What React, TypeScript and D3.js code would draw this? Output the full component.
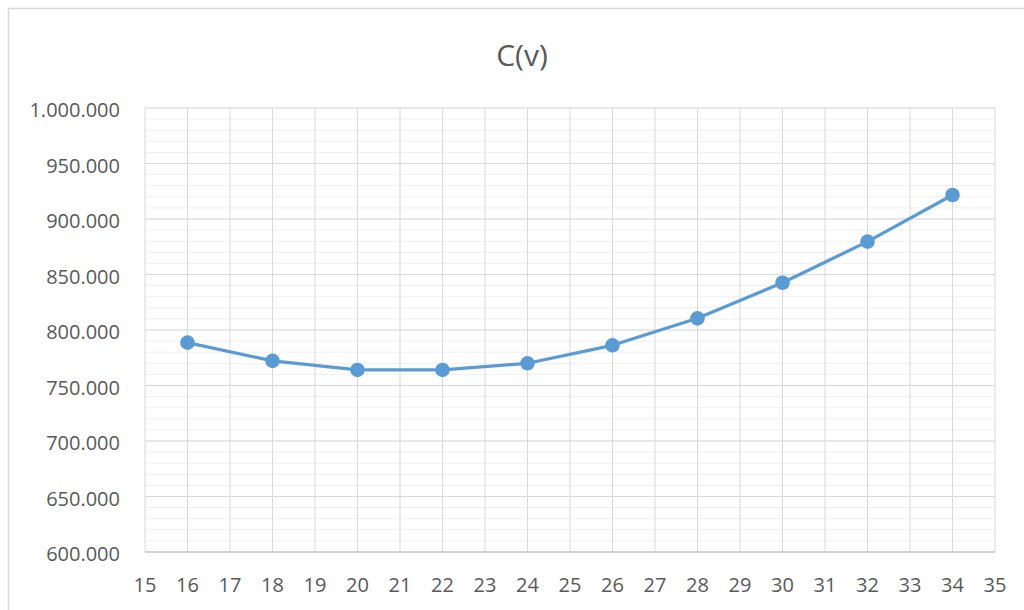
import React from "react";
import * as d3 from "d3";

const xValues = [16, 18, 20, 22, 24, 26, 28, 30, 32, 34];
const costValues = [788600, 772200, 764000, 764000, 770000, 786200, 810500, 842600, 879600, 921600];
const xTicks = d3.range(15, 36, 1);
const yMajorTicks = d3.range(600000, 1000001, 50000);
const yMinorTicks = d3.range(600000, 1000001, 10000);
const title = "C(v)";

const W = 1024;
const H = 610;
const left = 145;
const right = 995;
const top = 108;
const bottom = 552;

const fmt = (v: number) => d3.format(",")(v).replace(/,/g, ".");

export default function App() {
  const x = d3.scaleLinear().domain([15, 35]).range([left, right]);
  const y = d3.scaleLinear().domain([600000, 1000000]).range([bottom, top]);
  const line = d3
    .line<number>()
    .x((_, i) => x(xValues[i]))
    .y((d) => y(d));
  const font = "'Open Sans', 'Noto Sans', sans-serif";
  return (
    <svg
      width={W}
      height={H}
      style={{ position: "absolute", left: 0, top: 0, background: "#fff" }}
    >
      <rect x={8.5} y={8.5} width={1030} height={620} fill="#fff" stroke="#d9d9d9" strokeWidth={1.5} />
      <text x={522} y={66} textAnchor="middle" fontFamily={font} fontSize={30} fill="#595959">
        {title}
      </text>
      {yMinorTicks.map((t) => (
        <line key={"m" + t} x1={left} x2={right} y1={y(t)} y2={y(t)} stroke="#f0f0f0" strokeWidth={1} />
      ))}
      {yMajorTicks.map((t) => (
        <line key={"M" + t} x1={left} x2={right} y1={y(t)} y2={y(t)} stroke="#d9d9d9" strokeWidth={1} />
      ))}
      {xTicks.map((t) => (
        <line key={"x" + t} x1={x(t)} x2={x(t)} y1={top} y2={bottom} stroke="#d9d9d9" strokeWidth={1} />
      ))}
      <line x1={left} x2={right} y1={bottom} y2={bottom} stroke="#bfbfbf" strokeWidth={1} />
      {yMajorTicks.map((t) => (
        <text
          key={"yl" + t}
          x={120}
          y={y(t) + 2}
          dy="0.36em"
          textAnchor="end"
          fontFamily={font}
          fontSize={20}
          fill="#595959"
        >
          {fmt(t)}
        </text>
      ))}
      {xTicks.map((t) => (
        <text
          key={"xl" + t}
          x={x(t)}
          y={592}
          textAnchor="middle"
          fontFamily={font}
          fontSize={20}
          fill="#595959"
        >
          {t}
        </text>
      ))}
      <path d={line(costValues) || ""} fill="none" stroke="#5b9bd5" strokeWidth={3.2} strokeLinejoin="round" />
      {costValues.map((v, i) => (
        <circle key={"p" + i} cx={x(xValues[i])} cy={y(v)} r={7.3} fill="#5b9bd5" />
      ))}
    </svg>
  );
}
